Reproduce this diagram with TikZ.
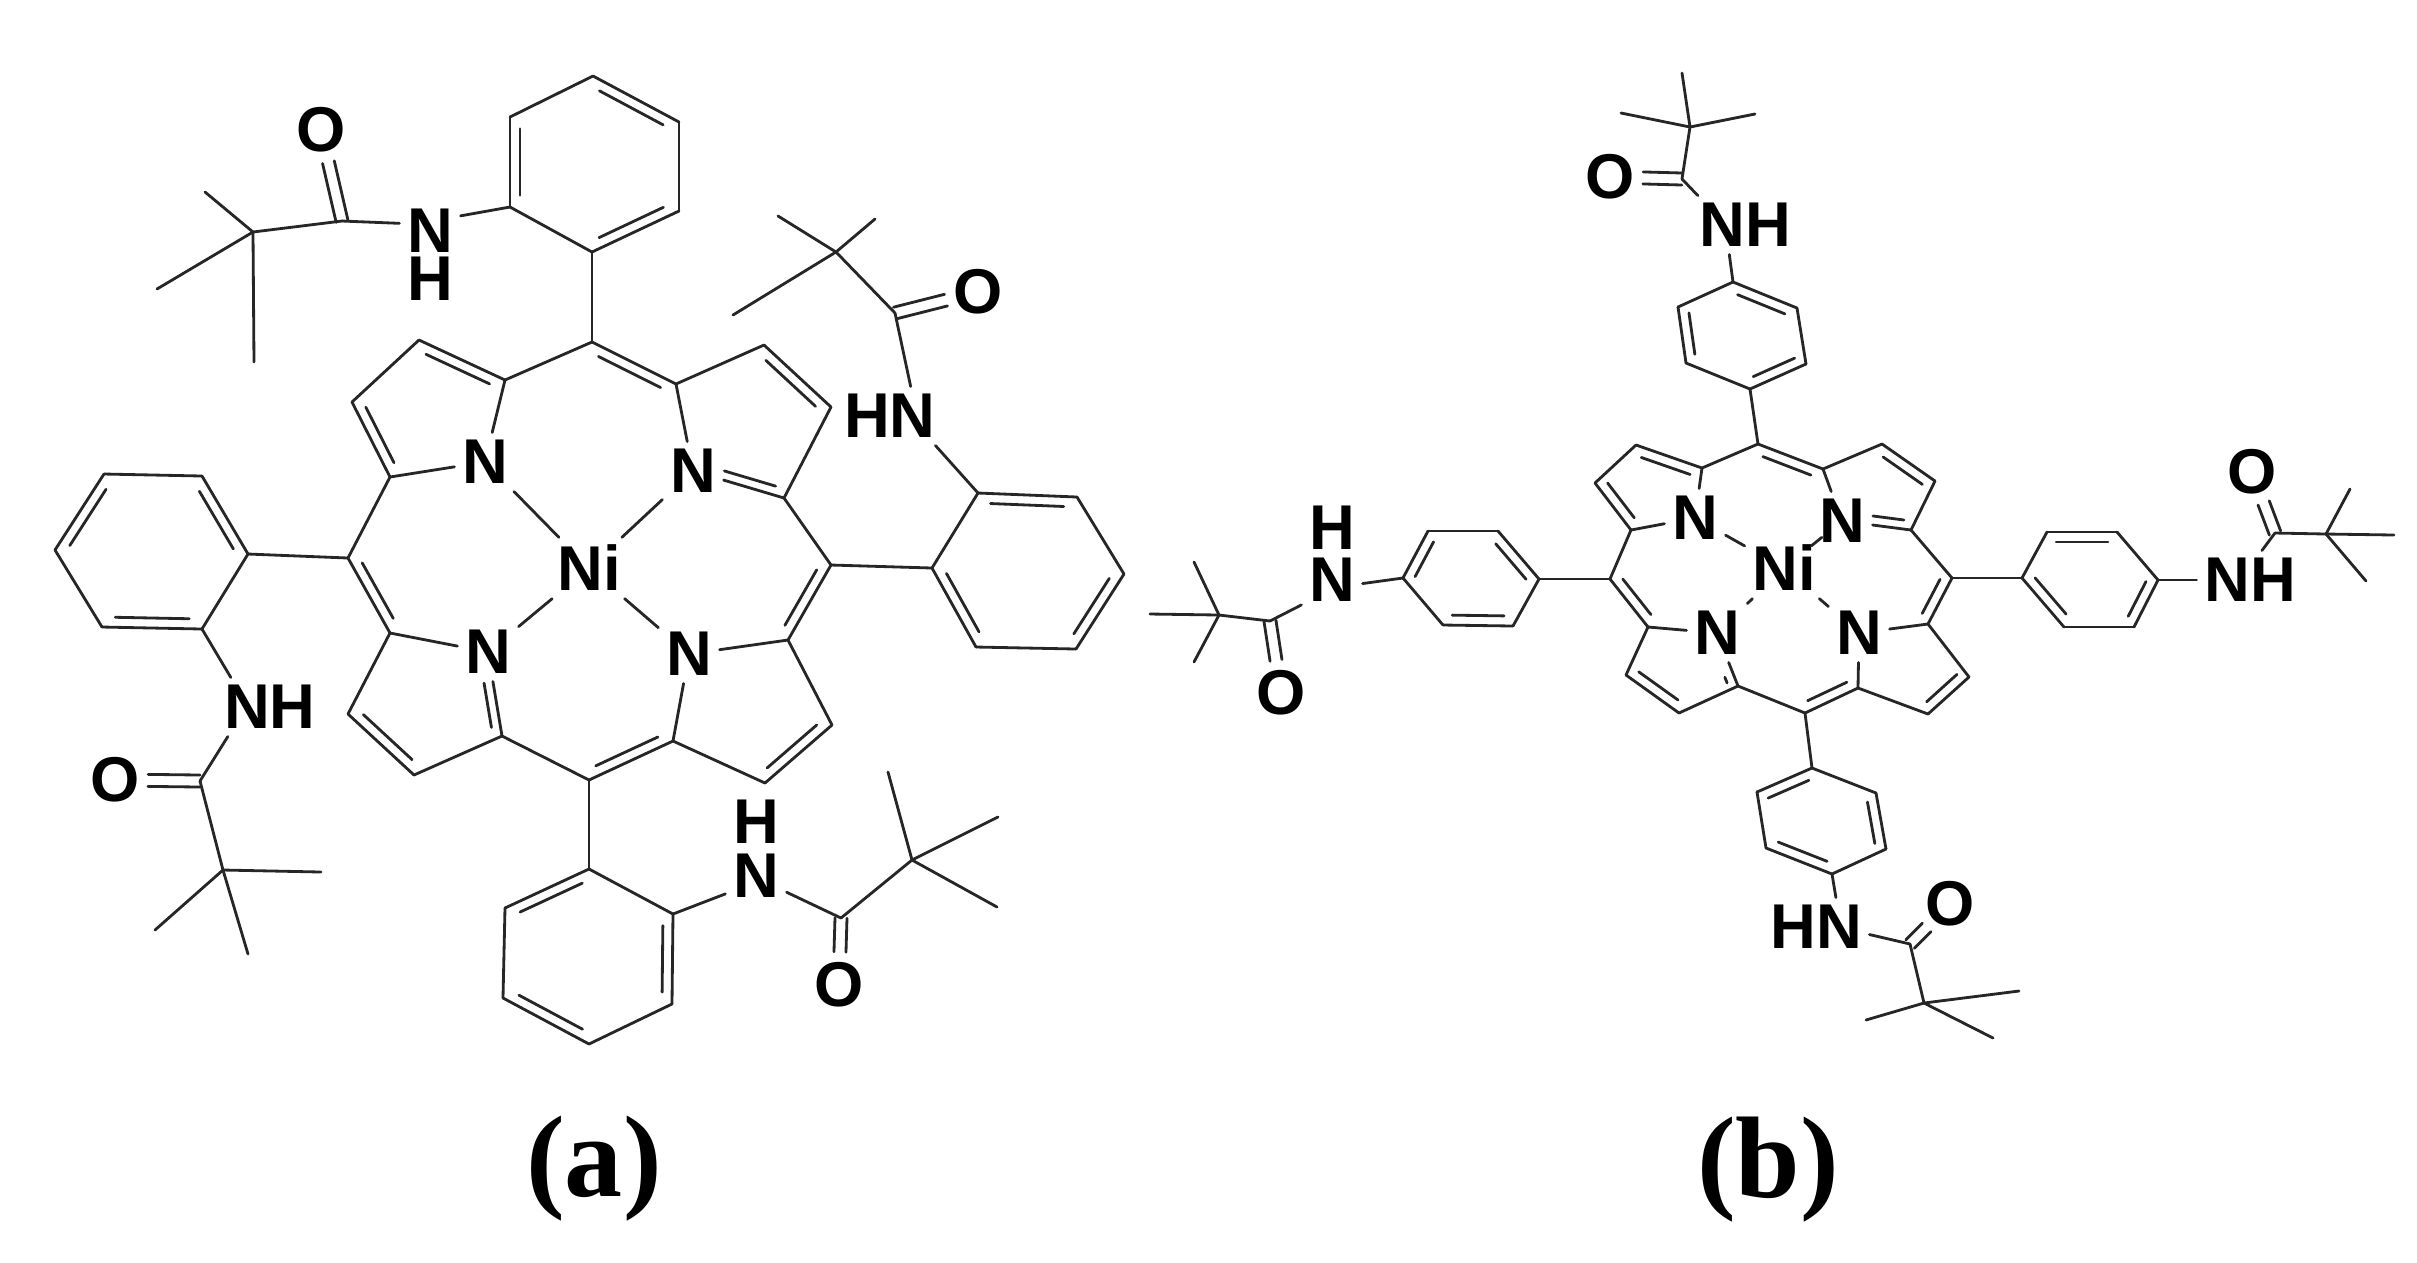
\documentclass[tikz,border=0pt]{standalone}
\usepackage{fontspec}
\setmainfont{Liberation Serif}
\setsansfont{Liberation Sans}
\usetikzlibrary{calc}
\definecolor{bondColor}{rgb}{0.15,0.15,0.15}

\begin{document}
\begin{tikzpicture}[x=0.01cm,y=-0.01cm]

          \tikzstyle{atomNode} = [black, inner sep=2pt, font=\sffamily\bfseries\fontsize{18}{13.66}\selectfont];
          \tikzstyle{stackNode} = [atomNode, align=center];
          \tikzstyle{panelNode} = [black, anchor=base, inner sep=0pt, font=\bfseries\fontsize{33}{33}\selectfont];

          \tikzstyle{normalEdge} = [line width=0.8pt, bondColor, line cap=round];
          \tikzstyle{innerEdge} = [normalEdge, to path={($(\tikztostart)!.13!(\tikztotarget)!.1cm!90:(\tikztotarget)$) -- ($(\tikztotarget)!.13!(\tikztostart)!.1cm!-90:(\tikztostart)$)}];
          \tikzstyle{iminEdge} = [normalEdge, to path={($(\tikztostart)!.12!(\tikztotarget)!.09cm!90:(\tikztotarget)$) -- ($(\tikztotarget)!.3cm!(\tikztostart)!.09cm!-90:(\tikztostart)$)}];
          \tikzstyle{iminEdgeBis} = [normalEdge, to path={($(\tikztostart)!.12!(\tikztotarget)!.09cm!-90:(\tikztotarget)$) -- ($(\tikztotarget)!.3cm!(\tikztostart)!.09cm!90:(\tikztostart)$)}];
          \tikzstyle{iminStub} = [normalEdge, to path={($(\tikztostart)!.12!(\tikztotarget)!.09cm!90:(\tikztotarget)$) -- ($(\tikztotarget)!.44cm!(\tikztostart)!.09cm!-90:(\tikztostart)$)}];
          \tikzstyle{oxoEdge} = [normalEdge, to path={($(\tikztostart)!.06cm!90:(\tikztotarget)$) -- ($(\tikztotarget)!.33cm!(\tikztostart)!.06cm!-90:(\tikztostart)$) ($(\tikztostart)!.06cm!-90:(\tikztotarget)$) -- ($(\tikztotarget)!.33cm!(\tikztostart)!.06cm!90:(\tikztostart)$)}];

          \useasboundingbox (0,0) rectangle (2417,1262);

          \coordinate (aC1) at (592,342);
          \coordinate (aC2) at (676,384);
          \coordinate (aC3) at (764,345);
          \coordinate (aC4) at (831,407);
          \coordinate (aC5) at (784,498);
          \coordinate (aC6) at (831,565);
          \coordinate (aC7) at (788,640);
          \coordinate (aC8) at (832,725);
          \coordinate (aC9) at (765,783);
          \coordinate (aC10) at (673,741);
          \coordinate (aC11) at (589,780);
          \coordinate (aC12) at (502,736);
          \coordinate (aC13) at (414,775);
          \coordinate (aC14) at (348,714);
          \coordinate (aC15) at (390,633);
          \coordinate (aC16) at (348,558);
          \coordinate (aC17) at (390,477);
          \coordinate (aC18) at (352,402);
          \coordinate (aC19) at (419,340);
          \coordinate (aC20) at (505,380);
          \node[atomNode] (aN1) at (485,462) {N};
          \node[atomNode] (aN2) at (693,471) {N};
          \node[atomNode] (aN3) at (689,654) {N};
          \node[atomNode] (aN4) at (488,652) {N};
          \node[atomNode] (aNi) at (589,568) {Ni};

          \coordinate (aT1) at (593,76);
          \coordinate (aT2) at (679,122);
          \coordinate (aT3) at (679,211);
          \coordinate (aT4) at (592,252);
          \coordinate (aT5) at (510,207);
          \coordinate (aT6) at (510,117);
          \coordinate (aBuT) at (253,232);
          \coordinate (aMeT1) at (205,192);
          \coordinate (aMeT2) at (157,289);
          \coordinate (aMeT3) at (254,362);
          \coordinate (aCoT) at (342,221);
          \node[atomNode] (aOT) at (321,130) {O};
          \node[stackNode] (aNHT) at (430,255) {N\\H};

          \coordinate (aR1) at (932,568);
          \coordinate (aR2) at (978,493);
          \coordinate (aR3) at (1077,497);
          \coordinate (aR4) at (1124,574);
          \coordinate (aR5) at (1076,649);
          \coordinate (aR6) at (976,647);
          \coordinate (aBuR) at (836,252);
          \coordinate (aMeR1) at (875,219);
          \coordinate (aMeR2) at (778,216);
          \coordinate (aMeR3) at (733,315);
          \coordinate (aCoR) at (895,313);
          \node[atomNode] (aOR) at (978,292) {O};
          \node[atomNode] (aNHR) at (890,416) {HN};

          \coordinate (aB1) at (589,869);
          \coordinate (aB2) at (673,914);
          \coordinate (aB3) at (672,1004);
          \coordinate (aB4) at (589,1044);
          \coordinate (aB5) at (503,998);
          \coordinate (aB6) at (505,908);
          \coordinate (aBuB) at (912,860);
          \coordinate (aMeB1) at (888,772);
          \coordinate (aMeB2) at (998,817);
          \coordinate (aMeB3) at (997,907);
          \coordinate (aCoB) at (841,918);
          \node[atomNode] (aOB) at (839,985) {O};
          \node[stackNode] (aNHB) at (756,848.5) {H\\[1.7pt]N};

          \coordinate (aL1) at (248,554);
          \coordinate (aL2) at (202,629);
          \coordinate (aL3) at (102,627);
          \coordinate (aL4) at (55,550);
          \coordinate (aL5) at (104,474);
          \coordinate (aL6) at (202,476);
          \coordinate (aBuL) at (223,870);
          \coordinate (aMeL1) at (321,872);
          \coordinate (aMeL2) at (155,930);
          \coordinate (aMeL3) at (248,954);
          \coordinate (aCoL) at (200,781);
          \node[atomNode] (aOL) at (115,780) {O};
          \node[atomNode] (aNHL) at (270,707) {NH};

          \draw[normalEdge] (aC1) -- (aC2);
          \draw[normalEdge] (aC2) -- (aC3);
          \draw[normalEdge] (aC3) -- (aC4);
          \draw[normalEdge] (aC4) -- (aC5);
          \draw[normalEdge] (aC5) -- (aC6);
          \draw[normalEdge] (aC6) -- (aC7);
          \draw[normalEdge] (aC7) -- (aC8);
          \draw[normalEdge] (aC8) -- (aC9);
          \draw[normalEdge] (aC9) -- (aC10);
          \draw[normalEdge] (aC10) -- (aC11);
          \draw[normalEdge] (aC11) -- (aC12);
          \draw[normalEdge] (aC12) -- (aC13);
          \draw[normalEdge] (aC13) -- (aC14);
          \draw[normalEdge] (aC14) -- (aC15);
          \draw[normalEdge] (aC15) -- (aC16);
          \draw[normalEdge] (aC16) -- (aC17);
          \draw[normalEdge] (aC17) -- (aC18);
          \draw[normalEdge] (aC18) -- (aC19);
          \draw[normalEdge] (aC19) -- (aC20);
          \draw[normalEdge] (aC20) -- (aC1);
          \draw[innerEdge] (aC2) to (aC1);
          \draw[innerEdge] (aC4) to (aC3);
          \draw[innerEdge] (aC7) to (aC6);
          \draw[innerEdge] (aC9) to (aC8);
          \draw[innerEdge] (aC11) to (aC10);
          \draw[innerEdge] (aC14) to (aC13);
          \draw[innerEdge] (aC16) to (aC15);
          \draw[innerEdge] (aC18) to (aC17);
          \draw[innerEdge] (aC20) to (aC19);
          \draw[normalEdge] (aN1) -- (aC20);
          \draw[normalEdge] (aN1) -- (aC17);
          \draw[normalEdge] (aN2) -- (aC2);
          \draw[normalEdge] (aN2) -- (aC5);
          \draw[iminEdgeBis] (aC5) to (aN2);
          \draw[normalEdge] (aN3) -- (aC7);
          \draw[normalEdge] (aN3) -- (aC10);
          \draw[normalEdge] (aN4) -- (aC15);
          \draw[normalEdge] (aN4) -- (aC12);
          \draw[iminEdge] (aC12) to (aN4);
          \draw[normalEdge] (aNi) -- (aN1);
          \draw[normalEdge] (aNi) -- (aN2);
          \draw[normalEdge] (aNi) -- (aN3);
          \draw[normalEdge] (aNi) -- (aN4);

          \draw[normalEdge] (aT1) -- (aT2);
          \draw[normalEdge] (aT2) -- (aT3);
          \draw[normalEdge] (aT3) -- (aT4);
          \draw[normalEdge] (aT4) -- (aT5);
          \draw[normalEdge] (aT5) -- (aT6);
          \draw[normalEdge] (aT6) -- (aT1);
          \draw[innerEdge] (aT2) to (aT1);
          \draw[innerEdge] (aT4) to (aT3);
          \draw[innerEdge] (aT6) to (aT5);
          \draw[normalEdge] (aC1) -- (aT4);
          \draw[normalEdge] (aT5) -- (aNHT.52);
          \draw[normalEdge] (aNHT.134) -- (aCoT);
          \draw[oxoEdge] (aCoT) to (aOT);
          \draw[normalEdge] (aCoT) -- (aBuT);
          \draw[normalEdge] (aBuT) -- (aMeT1);
          \draw[normalEdge] (aBuT) -- (aMeT2);
          \draw[normalEdge] (aBuT) -- (aMeT3);

          \draw[normalEdge] (aR1) -- (aR2);
          \draw[normalEdge] (aR2) -- (aR3);
          \draw[normalEdge] (aR3) -- (aR4);
          \draw[normalEdge] (aR4) -- (aR5);
          \draw[normalEdge] (aR5) -- (aR6);
          \draw[normalEdge] (aR6) -- (aR1);
          \draw[innerEdge] (aR3) to (aR2);
          \draw[innerEdge] (aR5) to (aR4);
          \draw[innerEdge] (aR1) to (aR6);
          \draw[normalEdge] (aC6) -- (aR1);
          \draw[normalEdge] (aR2) -- (aNHR.-33);
          \draw[normalEdge] (aNHR.55) -- (aCoR);
          \draw[oxoEdge] (aCoR) to (aOR);
          \draw[normalEdge] (aCoR) -- (aBuR);
          \draw[normalEdge] (aBuR) -- (aMeR1);
          \draw[normalEdge] (aBuR) -- (aMeR2);
          \draw[normalEdge] (aBuR) -- (aMeR3);

          \draw[normalEdge] (aB1) -- (aB2);
          \draw[normalEdge] (aB2) -- (aB3);
          \draw[normalEdge] (aB3) -- (aB4);
          \draw[normalEdge] (aB4) -- (aB5);
          \draw[normalEdge] (aB5) -- (aB6);
          \draw[normalEdge] (aB6) -- (aB1);
          \draw[innerEdge] (aB1) to (aB6);
          \draw[innerEdge] (aB3) to (aB2);
          \draw[innerEdge] (aB5) to (aB4);
          \draw[normalEdge] (aC11) -- (aB1);
          \draw[normalEdge] (aB2) -- (aNHB.236);
          \draw[normalEdge] (aNHB.-55) -- (aCoB);
          \draw[oxoEdge] (aCoB) to (aOB);
          \draw[normalEdge] (aCoB) -- (aBuB);
          \draw[normalEdge] (aBuB) -- (aMeB1);
          \draw[normalEdge] (aBuB) -- (aMeB2);
          \draw[normalEdge] (aBuB) -- (aMeB3);

          \draw[normalEdge] (aL1) -- (aL2);
          \draw[normalEdge] (aL2) -- (aL3);
          \draw[normalEdge] (aL3) -- (aL4);
          \draw[normalEdge] (aL4) -- (aL5);
          \draw[normalEdge] (aL5) -- (aL6);
          \draw[normalEdge] (aL6) -- (aL1);
          \draw[innerEdge] (aL1) to (aL6);
          \draw[innerEdge] (aL3) to (aL2);
          \draw[innerEdge] (aL5) to (aL4);
          \draw[normalEdge] (aC16) -- (aL1);
          \draw[normalEdge] (aL2) -- (aNHL.143);
          \draw[normalEdge] (aNHL.215) -- (aCoL);
          \draw[oxoEdge] (aCoL) to (aOL);
          \draw[normalEdge] (aCoL) -- (aBuL);
          \draw[normalEdge] (aBuL) -- (aMeL1);
          \draw[normalEdge] (aBuL) -- (aMeL2);
          \draw[normalEdge] (aBuL) -- (aMeL3);

          \coordinate (bC1) at (1758,444);
          \coordinate (bC2) at (1823,469);
          \coordinate (bC3) at (1882,444);
          \coordinate (bC4) at (1935,481);
          \coordinate (bC5) at (1911,530);
          \coordinate (bC6) at (1952,578);
          \coordinate (bC7) at (1928,624);
          \coordinate (bC8) at (1969,677);
          \coordinate (bC9) at (1928,714);
          \coordinate (bC10) at (1858,688);
          \coordinate (bC11) at (1805,713);
          \coordinate (bC12) at (1738,686);
          \coordinate (bC13) at (1679,713);
          \coordinate (bC14) at (1626,675);
          \coordinate (bC15) at (1648,627);
          \coordinate (bC16) at (1610,579);
          \coordinate (bC17) at (1631,530);
          \coordinate (bC18) at (1595,483);
          \coordinate (bC19) at (1636,445);
          \coordinate (bC20) at (1702,468);
          \node[atomNode] (bN1) at (1695,518) {N};
          \node[atomNode] (bN2) at (1842,521) {N};
          \node[atomNode] (bN3) at (1859,633) {N};
          \node[atomNode] (bN4) at (1717,633) {N};
          \node[atomNode] (bNi) at (1784,568) {Ni};

          \coordinate (bT1) at (1733,282);
          \coordinate (bT2) at (1797,308);
          \coordinate (bT3) at (1806,364);
          \coordinate (bT4) at (1750,389);
          \coordinate (bT5) at (1686,363);
          \coordinate (bT6) at (1678,307);
          \coordinate (bBuT) at (1690,127);
          \coordinate (bMeT1) at (1682,73);
          \coordinate (bMeT2) at (1621,113);
          \coordinate (bMeT3) at (1755,114);
          \coordinate (bCoT) at (1682,179);
          \node[atomNode] (bOT) at (1610,177) {O};
          \node[atomNode] (bNHT) at (1745,225) {NH};

          \coordinate (bR1) at (2022,578);
          \coordinate (bR2) at (2047,532);
          \coordinate (bR3) at (2117,532);
          \coordinate (bR4) at (2158,580);
          \coordinate (bR5) at (2134,627);
          \coordinate (bR6) at (2064,627);
          \coordinate (bBuR) at (2326,534);
          \coordinate (bMeR1) at (2394,535);
          \coordinate (bMeR2) at (2350,489);
          \coordinate (bMeR3) at (2366,581);
          \coordinate (bCoR) at (2275,533);
          \node[atomNode] (bOR) at (2252,472) {O};
          \node[atomNode] (bNHR) at (2250,580) {NH};

          \coordinate (bB1) at (1812,768);
          \coordinate (bB2) at (1876,793);
          \coordinate (bB3) at (1886,849);
          \coordinate (bB4) at (1832,874);
          \coordinate (bB5) at (1766,848);
          \coordinate (bB6) at (1757,792);
          \coordinate (bBuB) at (1924,1003);
          \coordinate (bMeB1) at (2019,991);
          \coordinate (bMeB2) at (1866,1020);
          \coordinate (bMeB3) at (1993,1038);
          \coordinate (bCoB) at (1910,944);
          \node[atomNode] (bOB) at (1950,904) {O};
          \node[atomNode] (bNHB) at (1816,927) {HN};

          \coordinate (bL1) at (1539,579);
          \coordinate (bL2) at (1513,626);
          \coordinate (bL3) at (1443,625);
          \coordinate (bL4) at (1403,578);
          \coordinate (bL5) at (1428,531);
          \coordinate (bL6) at (1498,531);
          \coordinate (bBuL) at (1219,615);
          \coordinate (bMeL1) at (1150,614);
          \coordinate (bMeL2) at (1194,562);
          \coordinate (bMeL3) at (1194,662);
          \coordinate (bCoL) at (1270,621);
          \node[atomNode] (bOL) at (1281,693) {O};
          \node[stackNode] (bNHL) at (1332,554) {H\\[1.1pt]N};

          \draw[normalEdge] (bC1) -- (bC2);
          \draw[normalEdge] (bC2) -- (bC3);
          \draw[normalEdge] (bC3) -- (bC4);
          \draw[normalEdge] (bC4) -- (bC5);
          \draw[normalEdge] (bC5) -- (bC6);
          \draw[normalEdge] (bC6) -- (bC7);
          \draw[normalEdge] (bC7) -- (bC8);
          \draw[normalEdge] (bC8) -- (bC9);
          \draw[normalEdge] (bC9) -- (bC10);
          \draw[normalEdge] (bC10) -- (bC11);
          \draw[normalEdge] (bC11) -- (bC12);
          \draw[normalEdge] (bC12) -- (bC13);
          \draw[normalEdge] (bC13) -- (bC14);
          \draw[normalEdge] (bC14) -- (bC15);
          \draw[normalEdge] (bC15) -- (bC16);
          \draw[normalEdge] (bC16) -- (bC17);
          \draw[normalEdge] (bC17) -- (bC18);
          \draw[normalEdge] (bC18) -- (bC19);
          \draw[normalEdge] (bC19) -- (bC20);
          \draw[normalEdge] (bC20) -- (bC1);
          \draw[innerEdge] (bC2) to (bC1);
          \draw[innerEdge] (bC4) to (bC3);
          \draw[innerEdge] (bC7) to (bC6);
          \draw[innerEdge] (bC9) to (bC8);
          \draw[innerEdge] (bC11) to (bC10);
          \draw[innerEdge] (bC14) to (bC13);
          \draw[innerEdge] (bC16) to (bC15);
          \draw[innerEdge] (bC18) to (bC17);
          \draw[innerEdge] (bC20) to (bC19);
          \draw[normalEdge] (bN1) -- (bC20);
          \draw[normalEdge] (bN1) -- (bC17);
          \draw[normalEdge] (bN2) -- (bC2);
          \draw[normalEdge] (bN2) -- (bC5);
          \draw[iminEdgeBis] (bC5) to (bN2);
          \draw[normalEdge] (bN3) -- (bC7);
          \draw[normalEdge] (bN3) -- (bC10);
          \draw[normalEdge] (bN4) -- (bC15);
          \draw[normalEdge] (bN4) -- (bC12);
          \draw[iminStub] (bC12) to (bN4);
          \draw[normalEdge] (bNi) -- (bN1);
          \draw[normalEdge] (bNi) -- (bN2);
          \draw[normalEdge] (bNi) -- (bN3);
          \draw[normalEdge] (bNi) -- (bN4);

          \draw[normalEdge] (bT1) -- (bT2);
          \draw[normalEdge] (bT2) -- (bT3);
          \draw[normalEdge] (bT3) -- (bT4);
          \draw[normalEdge] (bT4) -- (bT5);
          \draw[normalEdge] (bT5) -- (bT6);
          \draw[normalEdge] (bT6) -- (bT1);
          \draw[innerEdge] (bT2) to (bT1);
          \draw[innerEdge] (bT4) to (bT3);
          \draw[innerEdge] (bT6) to (bT5);
          \draw[normalEdge] (bC1) -- (bT4);
          \draw[normalEdge] (bT1) -- (bNHT.242);
          \draw[normalEdge] (bNHT.148) -- (bCoT);
          \draw[oxoEdge] (bCoT) to (bOT);
          \draw[normalEdge] (bCoT) -- (bBuT);
          \draw[normalEdge] (bBuT) -- (bMeT1);
          \draw[normalEdge] (bBuT) -- (bMeT2);
          \draw[normalEdge] (bBuT) -- (bMeT3);

          \draw[normalEdge] (bR1) -- (bR2);
          \draw[normalEdge] (bR2) -- (bR3);
          \draw[normalEdge] (bR3) -- (bR4);
          \draw[normalEdge] (bR4) -- (bR5);
          \draw[normalEdge] (bR5) -- (bR6);
          \draw[normalEdge] (bR6) -- (bR1);
          \draw[innerEdge] (bR3) to (bR2);
          \draw[innerEdge] (bR5) to (bR4);
          \draw[innerEdge] (bR1) to (bR6);
          \draw[normalEdge] (bC6) -- (bR1);
          \draw[normalEdge] (bR4) -- (bNHR);
          \draw[normalEdge] (bNHR.68) -- (bCoR);
          \draw[oxoEdge] (bCoR) to (bOR);
          \draw[normalEdge] (bCoR) -- (bBuR);
          \draw[normalEdge] (bBuR) -- (bMeR1);
          \draw[normalEdge] (bBuR) -- (bMeR2);
          \draw[normalEdge] (bBuR) -- (bMeR3);

          \draw[normalEdge] (bB1) -- (bB2);
          \draw[normalEdge] (bB2) -- (bB3);
          \draw[normalEdge] (bB3) -- (bB4);
          \draw[normalEdge] (bB4) -- (bB5);
          \draw[normalEdge] (bB5) -- (bB6);
          \draw[normalEdge] (bB6) -- (bB1);
          \draw[innerEdge] (bB1) to (bB6);
          \draw[innerEdge] (bB3) to (bB2);
          \draw[innerEdge] (bB5) to (bB4);
          \draw[normalEdge] (bC11) -- (bB1);
          \draw[normalEdge] (bB4) -- (bNHB.56);
          \draw[normalEdge] (bNHB.-8) -- (bCoB);
          \draw[oxoEdge] (bCoB) to (bOB);
          \draw[normalEdge] (bCoB) -- (bBuB);
          \draw[normalEdge] (bBuB) -- (bMeB1);
          \draw[normalEdge] (bBuB) -- (bMeB2);
          \draw[normalEdge] (bBuB) -- (bMeB3);

          \draw[normalEdge] (bL1) -- (bL2);
          \draw[normalEdge] (bL2) -- (bL3);
          \draw[normalEdge] (bL3) -- (bL4);
          \draw[normalEdge] (bL4) -- (bL5);
          \draw[normalEdge] (bL5) -- (bL6);
          \draw[normalEdge] (bL6) -- (bL1);
          \draw[innerEdge] (bL1) to (bL6);
          \draw[innerEdge] (bL3) to (bL2);
          \draw[innerEdge] (bL5) to (bL4);
          \draw[normalEdge] (bC16) -- (bL1);
          \draw[normalEdge] (bL4) -- (bNHL.-44);
          \draw[normalEdge] (bNHL.239) -- (bCoL);
          \draw[oxoEdge] (bCoL) to (bOL);
          \draw[normalEdge] (bCoL) -- (bBuL);
          \draw[normalEdge] (bBuL) -- (bMeL1);
          \draw[normalEdge] (bBuL) -- (bMeL2);
          \draw[normalEdge] (bBuL) -- (bMeL3);

          \node[panelNode] (aLabel) at (594,1196) {(a)};
          \node[panelNode] (bLabel) at (1768,1197) {(b)};

\end{tikzpicture}
\end{document}
